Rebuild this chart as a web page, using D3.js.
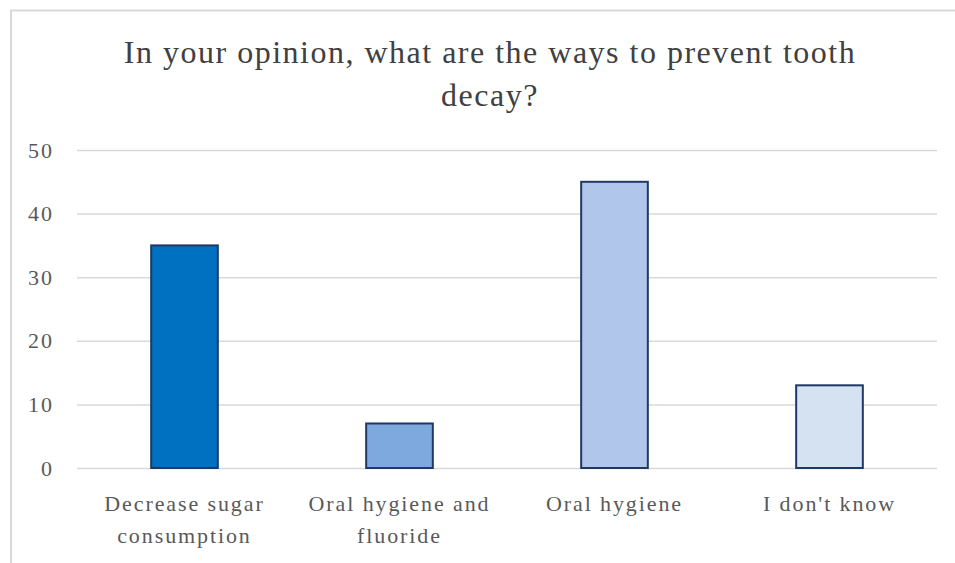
<!DOCTYPE html>
<html>
<head>
<meta charset="utf-8">
<script src="https://cdn.jsdelivr.net/npm/d3@7"></script>
<style>
  html, body { margin: 0; padding: 0; background: #fff; }
  svg { display: block; }
</style>
</head>
<body>
<svg id="chart" width="955" height="563"></svg>
<script>
const titleLines = ["In your opinion, what are the ways to prevent tooth", "decay?"];
const categories = ["Decrease sugar consumption", "Oral hygiene and fluoride", "Oral hygiene", "I don't know"];
const categoryLines = [["Decrease sugar", "consumption"], ["Oral hygiene and", "fluoride"], ["Oral hygiene"], ["I don't know"]];
const values = [35, 7, 45, 13];
const barColors = ["#0070C0", "#7DA9DE", "#B0C6EA", "#D5E2F2"];
const yTicks = [0, 10, 20, 30, 40, 50];

const svg = d3.select("#chart");
const W = 955, H = 563;
const margin = { left: 77, right: 18, top: 150, bottom: 95 };
const fontFamily = "'Liberation Serif', 'DejaVu Serif', serif";

svg.append("rect").attr("width", W).attr("height", H).attr("fill", "#fff");
// chart frame (only left & top visible)
svg.append("path")
  .attr("d", `M11,${H} L11,10.5 L${W},10.5`)
  .attr("fill", "none").attr("stroke", "#d9d9d9").attr("stroke-width", 2);

const x = d3.scaleBand().domain(categories).range([margin.left, W - margin.right]).paddingInner(0.69).paddingOuter(0.345);
const y = d3.scaleLinear().domain([0, 50]).range([H - margin.bottom, margin.top]);

// gridlines
const yAxis = d3.axisLeft(y).tickValues(yTicks).tickSize(-(W - margin.right - margin.left)).tickPadding(23).tickFormat(d3.format("d"));
const gy = svg.append("g").attr("transform", `translate(${margin.left},0)`).call(yAxis);
gy.select(".domain").remove();
gy.selectAll(".tick line").attr("stroke", "#d9d9d9").attr("stroke-width", 1.5);
gy.selectAll(".tick text").attr("fill", "#595959").attr("font-family", fontFamily).attr("font-size", 22).attr("letter-spacing", 2);

// bars
svg.append("g").selectAll("rect").data(values).join("rect")
  .attr("x", (d, i) => x(categories[i]))
  .attr("y", d => y(d))
  .attr("width", x.bandwidth())
  .attr("height", d => y(0) - y(d))
  .attr("fill", (d, i) => barColors[i])
  .attr("stroke", "#1F3864").attr("stroke-width", 2);

// x labels
const gx = svg.append("g");
categories.forEach((c, i) => {
  const cx = x(c) + x.bandwidth() / 2;
  const t = gx.append("text")
    .attr("y", 511)
    .attr("text-anchor", "middle")
    .attr("fill", "#595959").attr("font-family", fontFamily).attr("font-size", 22).attr("letter-spacing", 1.9);
  categoryLines[i].forEach((ln, j) => {
    t.append("tspan").attr("x", cx).attr("dy", j === 0 ? 0 : 32).text(ln);
  });
});

// title
const tt = svg.append("text")
  .attr("text-anchor", "middle")
  .attr("fill", "#404040").attr("font-family", fontFamily).attr("font-size", 32).attr("letter-spacing", 1.5);
titleLines.forEach((ln, j) => {
  tt.append("tspan").attr("x", 490).attr("y", 63 + j * 43).text(ln);
});
</script>
</body>
</html>
